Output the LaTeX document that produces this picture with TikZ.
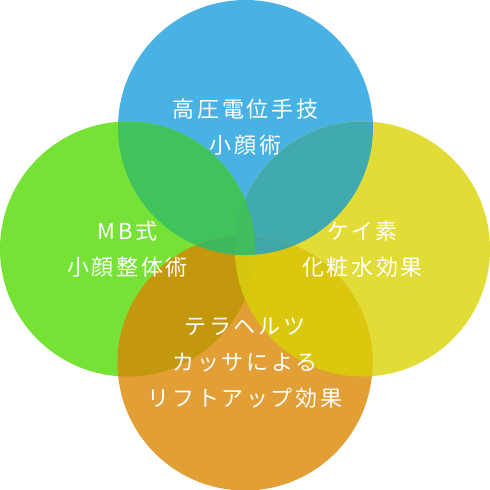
\documentclass[tikz,border=0pt]{standalone}
\usepackage{fontspec}
\usetikzlibrary{positioning}
\newfontfamily\jpfont[LetterSpace=12]{Noto Sans CJK JP}
\definecolor{cblue}{HTML}{47B2E3}
\definecolor{cgreen}{HTML}{77E236}
\definecolor{cyellow}{HTML}{E2DC36}
\definecolor{corange}{HTML}{E19F36}
% pairwise overlaps
\definecolor{bluegreen}{HTML}{41C35B}
\definecolor{blueyellow}{HTML}{41A9B0}
\definecolor{greenorange}{HTML}{C4980C}
\definecolor{yelloworange}{HTML}{DBC80E}
% three- and four-way overlaps
\definecolor{bgy}{HTML}{40BD5D}
\definecolor{gyo}{HTML}{D5C60E}
\definecolor{bgo}{HTML}{3FB75D}
\definecolor{byo}{HTML}{40A6A6}
\definecolor{bgyo}{HTML}{41BC5E}

\begin{document}
\begin{tikzpicture}[
  x=1pt, y=-1pt,
  % white heading set in every circle
  lbl/.style={text=white, align=center, inner sep=0,
              font=\jpfont\fontsize{22}{36}\selectfont}
]
\useasboundingbox (0,0) rectangle (490,490);
\def\rad{127.5pt}

% ══ circle centres ═════════════════════════════════════════════════════════
\coordinate (top)    at (245.5,127.5);
\coordinate (left)   at (127.5,249);
\coordinate (right)  at (362.5,249);
\coordinate (bottom) at (245,363);

% ══ plain discs ════════════════════════════════════════════════════════════
\fill[cblue]   (top)    circle[radius=\rad];
\fill[cgreen]  (left)   circle[radius=\rad];
\fill[cyellow] (right)  circle[radius=\rad];
\fill[corange] (bottom) circle[radius=\rad];

% ══ lenses: each overlap painted in its own tint ═══════════════════════════
\foreach \a/\b/\c in {top/left/bluegreen, top/right/blueyellow,
                      left/bottom/greenorange, right/bottom/yelloworange}{
  \begin{scope}
    \clip (\a) circle[radius=\rad];
    \fill[\c] (\b) circle[radius=\rad];
  \end{scope}
}
\foreach \a/\b/\c/\d in {top/left/right/bgy, left/right/bottom/gyo,
                         top/left/bottom/bgo, top/right/bottom/byo}{
  \begin{scope}
    \clip (\a) circle[radius=\rad];
    \clip (\b) circle[radius=\rad];
    \fill[\d] (\c) circle[radius=\rad];
  \end{scope}
}
% the small patch inside all four
\begin{scope}
  \clip (top) circle[radius=\rad];
  \clip (left) circle[radius=\rad];
  \clip (right) circle[radius=\rad];
  \fill[bgyo] (bottom) circle[radius=\rad];
\end{scope}

% ══ labels ═════════════════════════════════════════════════════════════════
\node[lbl] (toplbl)    at (top)    {高圧電位手技\\小顔術};
\node[lbl] (leftlbl)   at (left)   {MB式\\小顔整体術};
\node[lbl] (rightlbl)  at (right)  {ケイ素\\化粧水効果};
\node[lbl] (bottomlbl) at (bottom) {テラヘルツ\\カッサによる\\リフトアップ効果};

\end{tikzpicture}
\end{document}
